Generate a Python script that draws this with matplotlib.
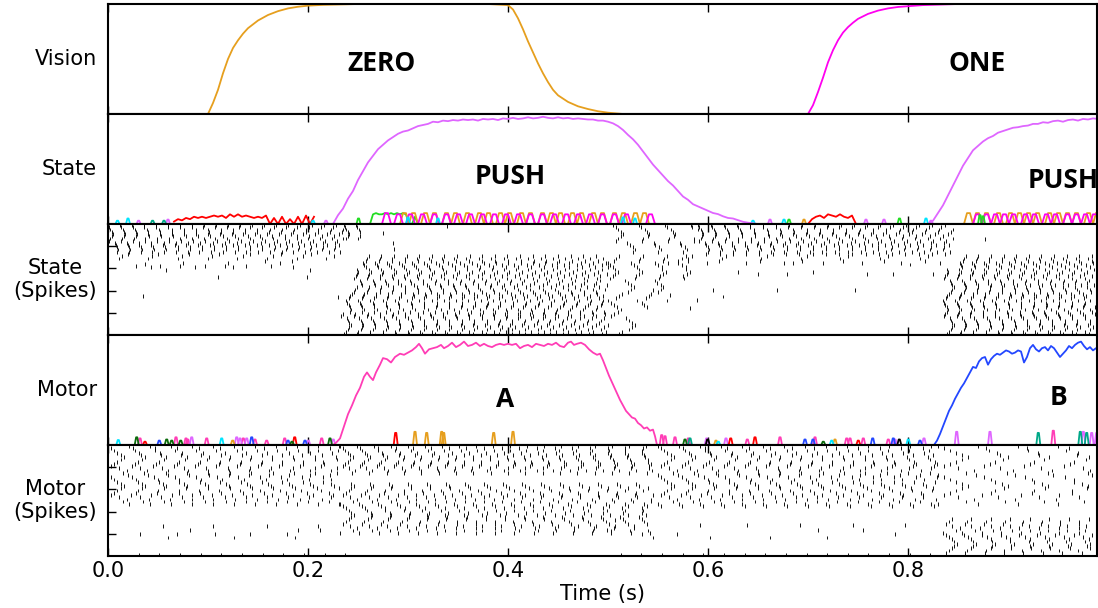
import numpy as np
import matplotlib.pyplot as plt

# ---------------- data ----------------
# Vision panel: "ZERO" (orange) and "ONE" (magenta) inputs
zero_t = [0.100, 0.105, 0.110, 0.115, 0.120, 0.125, 0.130, 0.135, 0.140, 0.150, 0.160, 0.170,
          0.180, 0.190, 0.200, 0.215, 0.250, 0.380, 0.400, 0.405, 0.410, 0.415, 0.420, 0.425,
          0.430, 0.435, 0.440, 0.445, 0.450, 0.460, 0.470, 0.480, 0.490, 0.500, 0.515]
zero_v = [0.00, 0.10, 0.22, 0.37, 0.50, 0.60, 0.67, 0.73, 0.78, 0.85, 0.90, 0.935,
          0.96, 0.975, 0.985, 0.992, 1.00, 1.00, 0.99, 0.95, 0.87, 0.77, 0.66, 0.56,
          0.46, 0.37, 0.29, 0.22, 0.17, 0.11, 0.07, 0.045, 0.025, 0.012, 0.00]
one_t = [0.700, 0.705, 0.710, 0.715, 0.720, 0.725, 0.730, 0.735, 0.740, 0.745, 0.750, 0.760,
         0.770, 0.780, 0.790, 0.800, 0.815, 0.850, 0.990]
one_v = [0.00, 0.08, 0.20, 0.33, 0.47, 0.58, 0.67, 0.74, 0.79, 0.83, 0.865, 0.91,
         0.94, 0.96, 0.973, 0.98, 0.99, 1.00, 1.00]

# State panel: PUSH state decoded activity
push1_t0 = 0.225   # sampled every 5 ms
push1_v = [0.00, 0.08, 0.14, 0.23, 0.30, 0.40, 0.48, 0.56, 0.62, 0.68, 0.72, 0.76, 0.79, 0.82,
           0.84, 0.85, 0.87, 0.89, 0.90, 0.91, 0.93, 0.925, 0.94, 0.935, 0.945, 0.94, 0.95,
           0.945, 0.95, 0.94, 0.955, 0.95, 0.955, 0.945, 0.96, 0.955, 0.965, 0.955, 0.96, 0.97,
           0.96, 0.965, 0.975, 0.965, 0.96, 0.97, 0.96, 0.965, 0.955, 0.96, 0.955, 0.95, 0.95,
           0.94, 0.94, 0.93, 0.915, 0.89, 0.855, 0.81, 0.77, 0.72, 0.66, 0.60, 0.54, 0.49, 0.44,
           0.39, 0.35, 0.30, 0.25, 0.22, 0.18, 0.16, 0.14, 0.12, 0.10, 0.09, 0.07, 0.055, 0.05,
           0.035, 0.02, 0.012, 0.005, 0.00]
push2_t0 = 0.820
push2_v = [0.00, 0.03, 0.10, 0.17, 0.26, 0.35, 0.44, 0.53, 0.60, 0.67, 0.71, 0.75, 0.78, 0.80,
           0.83, 0.845, 0.86, 0.875, 0.88, 0.89, 0.895, 0.91, 0.91, 0.925, 0.92, 0.935, 0.94,
           0.93, 0.945, 0.95, 0.94, 0.955, 0.95, 0.96, 0.955]

# low-level noise of the other state populations (digits = height in 0.011 units)
state_red1_t0, state_red1 = 0.066, "243546565676758686765657050604060706"   # 4 ms steps
state_red2_t0, state_red2 = 0.700, "0467587686570"
band1_t0 = 0.262   # 3 ms steps
state_green1 = "08988989898980060000"
state_orange1 = ("0000000000" "0990990099" "0990099099" "0099009909" "9009909900"
                 "9909900990" "9909900990" "9900990990" "0990990099" "099000000")
state_magenta1 = ("0000099008" "8008800880" "0880088008" "8008800880" "0880088008"
                  "8008800880" "0880088008" "8008800880" "0880088000" "000880000")
band2_t0 = 0.856
state_orange2 = "0990990990" "0990099099" "0990990099" "0990990990" "09909"
state_magenta2 = "0000880880" "8808808800" "8808800880" "8800880880" "88088"

state_cyan = [(0.0095, 0.03), (0.020, 0.05), (0.205, 0.03), (0.300, 0.06), (0.330, 0.05),
              (0.515, 0.06), (0.527, 0.05), (0.645, 0.03), (0.676, 0.04), (0.818, 0.05)]
state_violet = [(0.0306, 0.03), (0.060, 0.04), (0.218, 0.03), (0.662, 0.04), (0.758, 0.04),
                (0.776, 0.04), (0.823, 0.03)]
state_teal = [(0.0446, 0.03), (0.056, 0.03)]
state_green = [(0.2505, 0.05), (0.681, 0.04), (0.7915, 0.05), (0.872, 0.08), (0.875, 0.07)]
state_orange = [(0.696, 0.04)]

# Motor panel: action A (pink) and action B (blue)
motor_a_t = [0.225, 0.228, 0.232, 0.236, 0.240, 0.244, 0.248, 0.252, 0.256, 0.259, 0.262, 0.265,
             0.268, 0.272, 0.275, 0.279, 0.283, 0.287, 0.292, 0.296, 0.300, 0.304, 0.308, 0.311,
             0.314, 0.317, 0.321, 0.325, 0.329, 0.333, 0.336, 0.340, 0.344, 0.348, 0.352, 0.356,
             0.360, 0.364, 0.368, 0.372, 0.376, 0.380, 0.384, 0.388, 0.392, 0.396, 0.400, 0.404,
             0.408, 0.412, 0.416, 0.420, 0.424, 0.428, 0.432, 0.436, 0.440, 0.444, 0.448, 0.452,
             0.456, 0.460, 0.463, 0.466, 0.469, 0.473, 0.477, 0.481, 0.485, 0.489, 0.492, 0.495,
             0.498, 0.501, 0.505, 0.509, 0.512, 0.515, 0.518, 0.521, 0.524, 0.527, 0.530, 0.533,
             0.536, 0.539, 0.542, 0.545, 0.547, 0.549]
motor_a_v = [0.00, 0.02, 0.06, 0.17, 0.28, 0.36, 0.45, 0.52, 0.62, 0.66, 0.62, 0.59,
             0.66, 0.73, 0.79, 0.78, 0.75, 0.80, 0.83, 0.82, 0.84, 0.86, 0.89, 0.92,
             0.88, 0.83, 0.87, 0.88, 0.89, 0.91, 0.88, 0.90, 0.93, 0.89, 0.91, 0.94,
             0.90, 0.91, 0.93, 0.90, 0.92, 0.90, 0.89, 0.91, 0.92, 0.91, 0.92, 0.91,
             0.92, 0.88, 0.90, 0.91, 0.89, 0.92, 0.91, 0.90, 0.92, 0.91, 0.93, 0.90,
             0.89, 0.93, 0.94, 0.91, 0.92, 0.93, 0.91, 0.87, 0.84, 0.82, 0.83, 0.77,
             0.70, 0.63, 0.55, 0.47, 0.41, 0.36, 0.31, 0.28, 0.25, 0.24, 0.20, 0.18,
             0.15, 0.16, 0.13, 0.14, 0.08, 0.00]
motor_b_t = [0.826, 0.829, 0.832, 0.835, 0.838, 0.841, 0.844, 0.847, 0.850, 0.853, 0.856, 0.859,
             0.862, 0.865, 0.868, 0.871, 0.874, 0.877, 0.880, 0.883, 0.886, 0.889, 0.892, 0.895,
             0.898, 0.901, 0.904, 0.907, 0.910, 0.913, 0.916, 0.919, 0.922, 0.925, 0.928, 0.931,
             0.934, 0.937, 0.940, 0.943, 0.946, 0.949, 0.952, 0.955, 0.958, 0.961, 0.964, 0.967,
             0.970, 0.973, 0.976, 0.979, 0.982, 0.985, 0.988, 0.990]
motor_b_v = [0.00, 0.04, 0.10, 0.17, 0.24, 0.31, 0.36, 0.42, 0.47, 0.52, 0.56, 0.61,
             0.66, 0.71, 0.70, 0.76, 0.79, 0.80, 0.73, 0.78, 0.81, 0.83, 0.82, 0.84,
             0.86, 0.85, 0.83, 0.84, 0.86, 0.85, 0.75, 0.80, 0.88, 0.91, 0.87, 0.85,
             0.88, 0.89, 0.86, 0.90, 0.88, 0.84, 0.80, 0.83, 0.86, 0.90, 0.88, 0.91,
             0.93, 0.94, 0.90, 0.87, 0.89, 0.86, 0.88, 0.87]

# small bursts of the other motor populations (time, height)
motor_pink = [(0.032, 0.06), (0.068, 0.07), (0.078, 0.06), (0.0797, 0.05), (0.0987, 0.06),
              (0.1353, 0.06), (0.147, 0.05), (0.1587, 0.04), (0.1767, 0.06), (0.2137, 0.06),
              (0.5537, 0.09), (0.557, 0.08), (0.567, 0.07), (0.5803, 0.06), (0.6393, 0.05),
              (0.672, 0.07), (0.707, 0.07), (0.7387, 0.06), (0.742, 0.06), (0.7553, 0.06),
              (0.7803, 0.05), (0.9453, 0.13)]
motor_violet = [(0.0837, 0.07), (0.1287, 0.07), (0.132, 0.06), (0.1387, 0.06), (0.2003, 0.04),
                (0.2253, 0.05), (0.5987, 0.06), (0.618, 0.06), (0.787, 0.05), (0.816, 0.06),
                (0.8487, 0.12), (0.882, 0.12), (0.9753, 0.12), (0.9837, 0.11), (0.9887, 0.11)]
motor_blue = [(0.0513, 0.04), (0.1437, 0.07), (0.180, 0.04), (0.197, 0.04), (0.697, 0.05),
              (0.705, 0.05), (0.7647, 0.06), (0.7853, 0.06), (0.812, 0.04)]
motor_red = [(0.037, 0.03), (0.1867, 0.07), (0.2877, 0.11), (0.6227, 0.06), (0.647, 0.07),
             (0.7503, 0.04)]
motor_orange = [(0.1247, 0.04), (0.307, 0.12), (0.3187, 0.11), (0.3337, 0.12), (0.3357, 0.11),
                (0.3857, 0.11), (0.405, 0.12), (0.608, 0.04), (0.727, 0.05)]
motor_dkgreen = [(0.0287, 0.07), (0.0587, 0.05), (0.0637, 0.04), (0.0727, 0.04), (0.184, 0.03),
                 (0.222, 0.06), (0.577, 0.05), (0.7153, 0.03)]
motor_teal = [(0.582, 0.06), (0.9303, 0.11), (0.9723, 0.12), (0.9787, 0.11)]
motor_cyan = [(0.0103, 0.045), (0.1137, 0.06), (0.6103, 0.03), (0.7237, 0.04), (0.8003, 0.05)]
motor_black = [(0.5997, 0.05), (0.7913, 0.05)]

# spike rasters: (first row, last row, start s, end s, inter-spike interval s); row 0 = top
state_blocks = [
    (0, 12, 0.000, 0.236, 0.0120),
    (13, 15, 0.000, 0.232, 0.030),
    (0, 6, 0.236, 0.252, 0.0120),
    (14, 19, 0.255, 0.500, 0.0125),
    (20, 27, 0.245, 0.500, 0.0125),
    (28, 39, 0.238, 0.500, 0.0125),
    (40, 49, 0.232, 0.500, 0.0125),
    (14, 24, 0.500, 0.590, 0.024),
    (25, 37, 0.500, 0.560, 0.030),
    (38, 49, 0.500, 0.530, 0.032),
    (0, 12, 0.505, 0.590, 0.026),
    (0, 13, 0.590, 0.845, 0.0130),
    (14, 17, 0.560, 0.840, 0.040),
    (14, 19, 0.852, 0.990, 0.0125),
    (20, 49, 0.835, 0.990, 0.0125),
]
state_singles = [(0.028, 18.8), (0.037, 18.0), (0.043, 19.5), (0.052, 18.8), (0.058, 20.7),
                 (0.072, 18.8), (0.075, 17.7), (0.087, 19.5), (0.097, 18.8), (0.110, 23.7),
                 (0.117, 18.8), (0.120, 17.7), (0.125, 19.5), (0.138, 18.8), (0.157, 16.8),
                 (0.163, 18.8), (0.172, 17.7), (0.035, 32.5), (0.185, 19.2), (0.199, 23.7),
                 (0.202, 20.7), (0.184, 16.5), (0.230, 32.9), (0.275, 4.1), (0.285, 8.6),
                 (0.286, 11.3), (0.339, 1.0), (0.605, 29.7), (0.669, 29.7), (0.747, 29.7),
                 (0.545, 29.7), (0.615, 32.7), (0.582, 38.0), (0.589, 34.2), (0.562, 32.0),
                 (0.630, 21.6), (0.650, 22.4), (0.679, 22.4), (0.705, 21.6), (0.759, 22.4),
                 (0.785, 22.4), (0.825, 22.4), (0.685, 17.4), (0.802, 18.2), (0.877, 6.9)]
state_phase = [0.00, 0.10, 0.20, 0.30, 0.40, 0.30, 0.20, 0.10, 0.55, 0.65, 0.75, 0.85,
               0.75, 0.65, 0.45, 0.35, 0.25]
state_isi_scale = [1.00, 0.98, 1.02, 1.01, 0.99, 1.03, 0.97, 1.00, 1.02, 0.98, 1.01]

motor_blocks = [
    (0, 26, 0.000, 0.232, 0.021),
    (0, 12, 0.232, 0.550, 0.017),
    (17, 39, 0.232, 0.545, 0.019),
    (0, 27, 0.550, 0.830, 0.021),
    (0, 26, 0.830, 0.990, 0.040),
    (33, 48, 0.835, 0.990, 0.019),
    (49, 49, 0.020, 0.245, 0.0215),
    (49, 49, 0.502, 0.825, 0.0215),
]
motor_singles = [(0.055, 36.5), (0.032, 40.2), (0.060, 41.7), (0.069, 40.2), (0.082, 38.3),
                 (0.105, 36.5), (0.107, 40.2), (0.126, 41.7), (0.142, 40.2), (0.159, 36.5),
                 (0.179, 40.2), (0.187, 41.7), (0.190, 38.3), (0.210, 36.5), (0.212, 38.3),
                 (0.507, 33.8), (0.499, 38.3), (0.534, 40.2), (0.545, 41.7), (0.569, 40.2),
                 (0.592, 36.0), (0.602, 41.7), (0.639, 36.0), (0.662, 41.7), (0.692, 36.0),
                 (0.710, 38.3), (0.719, 41.7), (0.745, 36.0), (0.755, 38.3), (0.787, 40.2),
                 (0.797, 36.0)]
motor_phase = [0.00, 0.15, 0.30, 0.45, 0.60, 0.75, 0.60, 0.45, 0.30, 0.15, 0.50, 0.90, 0.70]
motor_isi_scale = [1.00, 1.04, 0.97, 1.02, 0.96, 1.01, 1.03, 0.98, 1.00]

# labels
panel_labels = ['Vision', 'State', 'State\n(Spikes)', 'Motor', 'Motor\n(Spikes)']
xticks = [0.0, 0.2, 0.4, 0.6, 0.8]

# ---------------- colours ----------------
ORANGE = '#E69F1E'
MAGENTA = '#FF00F0'
VIOLET = '#DF66FF'
PINK = '#FF3DB6'
BLUE = '#2347FF'
RED = '#FF0000'
GREEN = '#22DD22'
DKGREEN = '#0B6B0B'
TEAL = '#00A888'
CYAN = '#00E5FF'


def bumps(ax, items, color):
    for t, h in items:
        ax.plot([t - 0.002, t - 0.0006, t + 0.0006, t + 0.002], [0, h, h, 0],
                color=color, lw=1.3)


def band(ax, t0, step, digits, color):
    v = np.array([int(d) for d in digits]) * 0.011
    ax.plot(t0 + step * np.arange(len(v)), v, color=color, lw=1.3)


def raster(ax, blocks, singles, phases, scales):
    xs, ys = [], []
    for r0, r1, t0, t1, isi in blocks:
        for r in range(r0, r1 + 1):
            step = isi * scales[r % len(scales)]
            ts = np.arange(t0 + phases[r % len(phases)] * isi, t1, step)
            xs.extend(ts)
            ys.extend([r + 0.5] * len(ts))
    for t, r in singles:
        xs.append(t)
        ys.append(r)
    ys = np.array(ys)
    ax.vlines(xs, ys - 0.85, ys + 0.85, color='k', lw=0.65)
    ax.set_ylim(50, 0)
    ax.set_yticks([10, 20, 30, 40])


plt.rcParams['font.family'] = 'DejaVu Sans'
plt.rcParams['font.size'] = 15
plt.rcParams['axes.linewidth'] = 1.5

fig = plt.figure(figsize=(10.98, 6.08), dpi=100)
H = 608.0
tops = [4, 114, 224, 335, 445]
bots = [114, 224, 335, 445, 556]
axes = []
for i in range(5):
    ax = fig.add_axes([108 / 1098, 1 - bots[i] / H, 989 / 1098, (bots[i] - tops[i]) / H])
    ax.set_xlim(0, 0.989)
    ax.set_xticks(xticks)
    ax.tick_params(axis='x', direction='in', top=True, bottom=True, length=6, width=1,
                   labelbottom=(i == 4))
    ax.tick_params(axis='y', direction='in', length=6, width=1, labelleft=False)
    ax.set_ylabel(panel_labels[i], rotation=0, ha='right', va='center', labelpad=8,
                  multialignment='center')
    axes.append(ax)

bold = dict(fontsize=19, fontweight='bold', family='Open Sans', ha='center', va='center')

# Vision
ax = axes[0]
ax.plot(zero_t, zero_v, color=ORANGE, lw=1.3)
ax.plot(one_t, one_v, color=MAGENTA, lw=1.3)
ax.set_ylim(0, 1.0)
ax.set_yticks([])
ax.text(0.274, 0.455, 'ZERO', **bold)
ax.text(0.869, 0.455, 'ONE', **bold)

# State
ax = axes[1]
band(ax, state_red1_t0, 0.004, state_red1, RED)
band(ax, state_red2_t0, 0.004, state_red2, RED)
band(ax, band1_t0, 0.003, state_green1, GREEN)
band(ax, band1_t0, 0.003, state_orange1, ORANGE)
band(ax, band1_t0, 0.003, state_magenta1, MAGENTA)
band(ax, band2_t0, 0.003, state_orange2, ORANGE)
band(ax, band2_t0, 0.003, state_magenta2, MAGENTA)
bumps(ax, state_cyan, CYAN)
bumps(ax, state_violet, VIOLET)
bumps(ax, state_teal, TEAL)
bumps(ax, state_green, GREEN)
bumps(ax, state_orange, ORANGE)
ax.plot(push1_t0 + 0.005 * np.arange(len(push1_v)), push1_v, color=VIOLET, lw=1.3)
ax.plot(push2_t0 + 0.005 * np.arange(len(push2_v)), push2_v, color=VIOLET, lw=1.3)
ax.set_ylim(0, 1.0)
ax.set_yticks([])
ax.text(0.402, 0.436, 'PUSH', **bold)
ax.text(0.955, 0.40, 'PUSH', **bold)

# State spikes
raster(axes[2], state_blocks, state_singles, state_phase, state_isi_scale)

# Motor
ax = axes[3]
bumps(ax, motor_pink, PINK)
bumps(ax, motor_violet, VIOLET)
bumps(ax, motor_blue, BLUE)
bumps(ax, motor_red, RED)
bumps(ax, motor_orange, ORANGE)
bumps(ax, motor_dkgreen, DKGREEN)
bumps(ax, motor_teal, TEAL)
bumps(ax, motor_cyan, CYAN)
bumps(ax, motor_black, 'k')
ax.plot(motor_a_t, motor_a_v, color=PINK, lw=1.3)
ax.plot(motor_b_t, motor_b_v, color=BLUE, lw=1.3)
ax.set_ylim(0, 1.0)
ax.set_yticks([])
ax.text(0.397, 0.41, 'A', **bold)
ax.text(0.950, 0.436, 'B', **bold)

# Motor spikes
raster(axes[4], motor_blocks, motor_singles, motor_phase, motor_isi_scale)
axes[4].set_xlabel('Time (s)', labelpad=2)

fig.savefig('out.png', dpi=100)
